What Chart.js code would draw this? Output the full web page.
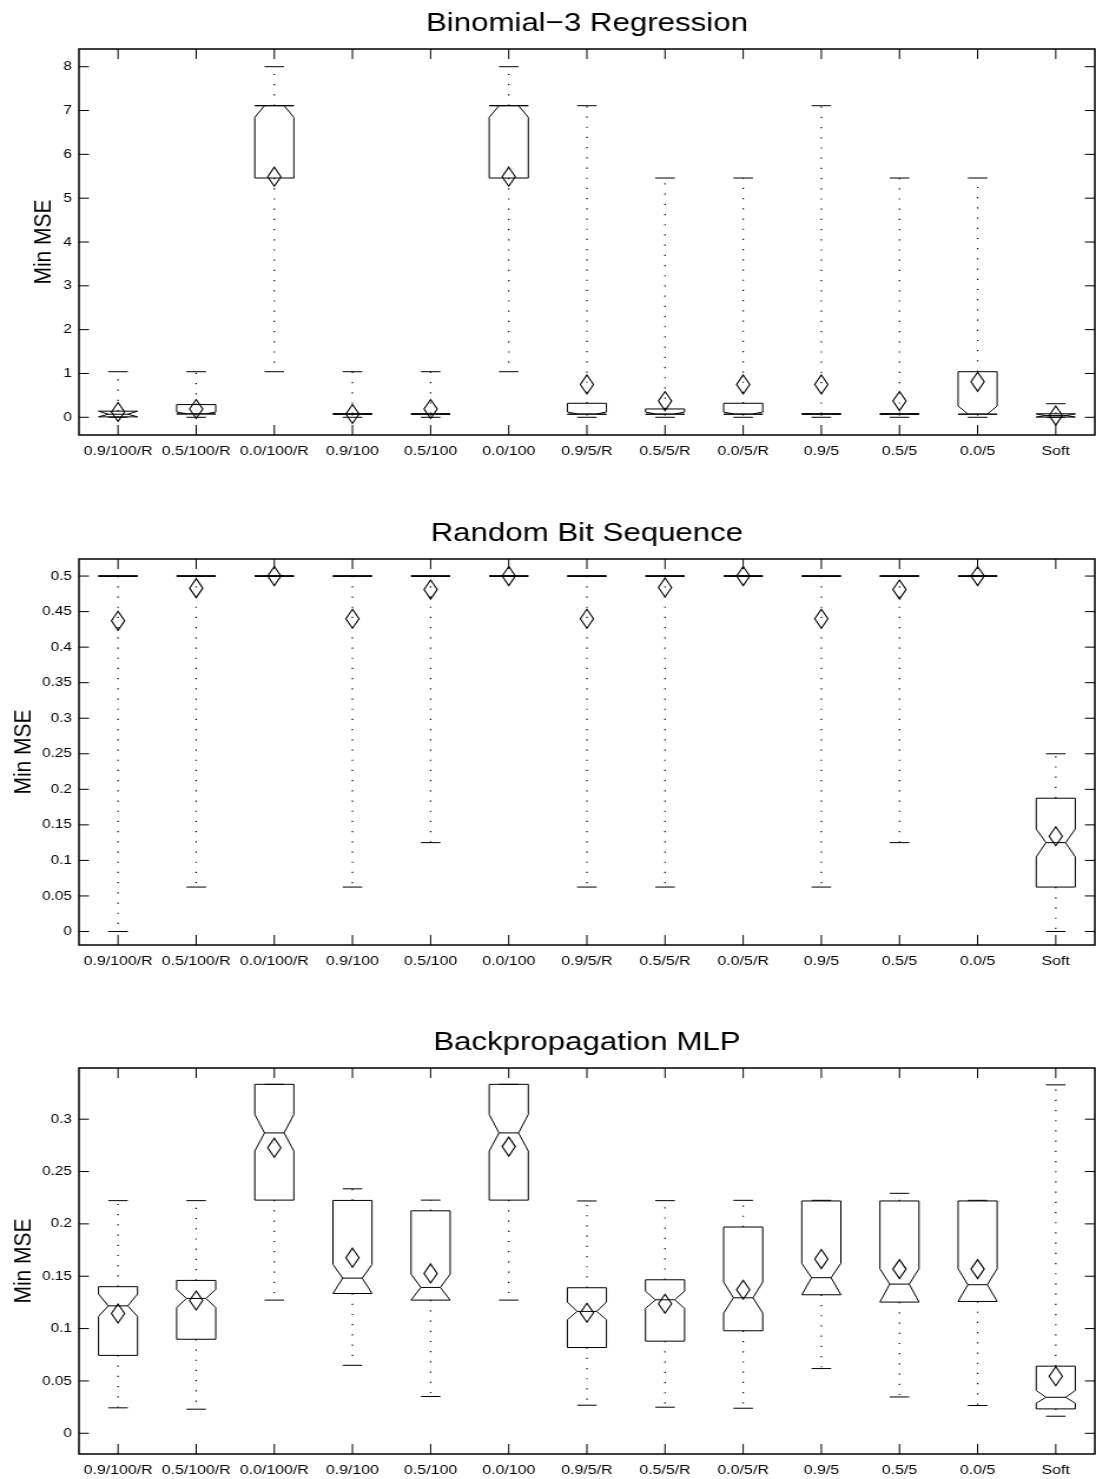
<!DOCTYPE html>
<html>
<head>
<meta charset="utf-8">
<script src="https://cdn.jsdelivr.net/npm/chart.js@4.4.1/dist/chart.umd.min.js"></script>
<style>
  html, body { margin: 0; padding: 0; background: #fff; }
  body { width: 1096px; height: 1479px; position: relative; overflow: hidden; }
  /* the source figure is stretched sideways a little, so the panels are too */
  .panel { position: absolute; left: 0; width: 930px; height: 460px; transform: scaleX(1.1785); transform-origin: 0 0; }
</style>
</head>
<body>
<div class="panel" style="top:0px"><canvas id="chart1" width="930" height="460"></canvas></div>
<div class="panel" style="top:510px"><canvas id="chart2" width="930" height="460"></canvas></div>
<div class="panel" style="top:1019px"><canvas id="chart3" width="930" height="460"></canvas></div>
<script>
const categories = ["0.9/100/R", "0.5/100/R", "0.0/100/R", "0.9/100", "0.5/100", "0.0/100",
                    "0.9/5/R", "0.5/5/R", "0.0/5/R", "0.9/5", "0.5/5", "0.0/5", "Soft"];

// Binomial-3 Regression
const binMin     = [0, 0, 1.04, 0, 0, 1.04, 0, 0, 0, 0, 0, 0, 0];
const binQ1      = [0.01, 0.075, 5.46, 0.07, 0.07, 5.46, 0.07, 0.07, 0.07, 0.07, 0.07, 0.07, 0.005];
const binNotchLo = [0.01, 0.075, 6.845, 0.07, 0.07, 6.845, 0.07, 0.07, 0.07, 0.07, 0.07, 0.07, 0.005];
const binMedian  = [0.07, 0.08, 7.11, 0.076, 0.076, 7.11, 0.076, 0.076, 0.076, 0.076, 0.076, 0.076, 0.04];
const binNotchHi = [0.14, 0.12, 7.11, 0.08, 0.08, 7.11, 0.12, 0.12, 0.12, 0.08, 0.08, 0.258, 0.075];
const binQ3      = [0.14, 0.29, 7.11, 0.08, 0.08, 7.11, 0.32, 0.19, 0.32, 0.08, 0.08, 1.04, 0.08];
const binMax     = [1.04, 1.04, 8.0, 1.04, 1.04, 8.0, 7.11, 5.46, 5.46, 7.11, 5.46, 5.46, 0.31];
const binMean    = [0.12, 0.19, 5.49, 0.076, 0.19, 5.49, 0.75, 0.37, 0.75, 0.75, 0.37, 0.81, 0.04];
const binYTicks  = [0, 1, 2, 3, 4, 5, 6, 7, 8];

// Random Bit Sequence
const rbsMin     = [0, 0.0625, 0.5, 0.0625, 0.125, 0.5, 0.0625, 0.0625, 0.5, 0.0625, 0.125, 0.5, 0];
const rbsQ1      = [0.5, 0.5, 0.5, 0.5, 0.5, 0.5, 0.5, 0.5, 0.5, 0.5, 0.5, 0.5, 0.0625];
const rbsNotchLo = [0.5, 0.5, 0.5, 0.5, 0.5, 0.5, 0.5, 0.5, 0.5, 0.5, 0.5, 0.5, 0.105];
const rbsMedian  = [0.5, 0.5, 0.5, 0.5, 0.5, 0.5, 0.5, 0.5, 0.5, 0.5, 0.5, 0.5, 0.125];
const rbsNotchHi = [0.5, 0.5, 0.5, 0.5, 0.5, 0.5, 0.5, 0.5, 0.5, 0.5, 0.5, 0.5, 0.144];
const rbsQ3      = [0.5, 0.5, 0.5, 0.5, 0.5, 0.5, 0.5, 0.5, 0.5, 0.5, 0.5, 0.5, 0.1875];
const rbsMax     = [0.5, 0.5, 0.5, 0.5, 0.5, 0.5, 0.5, 0.5, 0.5, 0.5, 0.5, 0.5, 0.25];
const rbsMean    = [0.437, 0.483, 0.5, 0.44, 0.481, 0.5, 0.44, 0.484, 0.5, 0.44, 0.481, 0.5, 0.134];
const rbsYTicks  = [0, 0.05, 0.1, 0.15, 0.2, 0.25, 0.3, 0.35, 0.4, 0.45, 0.5];

// Backpropagation MLP
const mlpMin     = [0.0243, 0.023, 0.1272, 0.0649, 0.0351, 0.1272, 0.0268, 0.0249, 0.0239, 0.0618, 0.0347, 0.0265, 0.0163];
const mlpQ1      = [0.0744, 0.0898, 0.2227, 0.1335, 0.1272, 0.2227, 0.0819, 0.088, 0.0979, 0.1323, 0.1253, 0.1259, 0.0233];
const mlpNotchLo = [0.1115, 0.120, 0.2696, 0.1335, 0.1272, 0.2696, 0.1084, 0.1192, 0.1148, 0.1323, 0.1253, 0.1259, 0.0287];
const mlpMedian  = [0.1217, 0.1288, 0.2869, 0.1482, 0.1393, 0.2869, 0.1164, 0.1275, 0.1294, 0.1486, 0.1425, 0.1419, 0.0344];
const mlpNotchHi = [0.133, 0.1374, 0.3045, 0.1613, 0.152, 0.3045, 0.1253, 0.1358, 0.1444, 0.1623, 0.1572, 0.1572, 0.0408];
const mlpQ3      = [0.140, 0.146, 0.3333, 0.2224, 0.2125, 0.3333, 0.139, 0.1466, 0.197, 0.2219, 0.2219, 0.2219, 0.0641];
const mlpMax     = [0.2222, 0.2222, 0.3333, 0.2335, 0.2227, 0.3333, 0.2219, 0.2222, 0.2225, 0.2225, 0.2292, 0.2225, 0.3328];
const mlpMean    = [0.1144, 0.1268, 0.2728, 0.1677, 0.1527, 0.2738, 0.1151, 0.1237, 0.1371, 0.1664, 0.1568, 0.1568, 0.0545];
const mlpYTicks  = [0, 0.05, 0.1, 0.15, 0.2, 0.25, 0.3];

Chart.defaults.font.family = "'Liberation Sans', Arial, Helvetica, sans-serif";
Chart.defaults.color = '#000';

const boxPlugin = {
  id: 'notchedBoxes',
  beforeDatasetsDraw(chart, args, opts) {
    const b = opts.boxes;
    const {ctx, scales: {x, y}} = chart;
    const px = v => x.getPixelForValue(v);
    const py = v => y.getPixelForValue(v);
    ctx.save();
    ctx.strokeStyle = '#000';
    ctx.lineWidth = 1;
    b.median.forEach((med, i) => {
      const c = i + 1;
      const xl = px(c - 0.25), xr = px(c + 0.25);
      const xil = px(c - 0.125), xir = px(c + 0.125), xc = px(c);
      // dotted whiskers
      ctx.setLineDash([1.2, 9]);
      ctx.lineWidth = 1.2;
      ctx.beginPath();
      if (b.max[i] > b.q3[i]) { ctx.moveTo(xc, py(b.q3[i])); ctx.lineTo(xc, py(b.max[i])); }
      if (b.min[i] < b.q1[i]) { ctx.moveTo(xc, py(b.q1[i])); ctx.lineTo(xc, py(b.min[i])); }
      ctx.stroke();
      ctx.setLineDash([]);
      ctx.lineWidth = 1;
      // whisker caps
      ctx.beginPath();
      [b.max[i], b.min[i]].forEach(v => { ctx.moveTo(xil, py(v)); ctx.lineTo(xir, py(v)); });
      ctx.stroke();
      // notched box
      ctx.beginPath();
      ctx.moveTo(xl, py(b.q1[i]));
      ctx.lineTo(xl, py(b.notchLo[i]));
      ctx.lineTo(xil, py(med));
      ctx.lineTo(xl, py(b.notchHi[i]));
      ctx.lineTo(xl, py(b.q3[i]));
      ctx.lineTo(xr, py(b.q3[i]));
      ctx.lineTo(xr, py(b.notchHi[i]));
      ctx.lineTo(xir, py(med));
      ctx.lineTo(xr, py(b.notchLo[i]));
      ctx.lineTo(xr, py(b.q1[i]));
      ctx.closePath();
      ctx.stroke();
      // median
      ctx.beginPath();
      ctx.moveTo(xil, py(med));
      ctx.lineTo(xir, py(med));
      ctx.stroke();
    });
    ctx.restore();
  },
  afterDatasetsDraw(chart) {
    // mean markers: tall open diamonds at the scatter points
    const ctx = chart.ctx;
    ctx.save();
    ctx.strokeStyle = '#000';
    ctx.lineWidth = 1.1;
    chart.getDatasetMeta(0).data.forEach(pt => {
      ctx.beginPath();
      ctx.moveTo(pt.x, pt.y - 9.5);
      ctx.lineTo(pt.x + 5.6, pt.y);
      ctx.lineTo(pt.x, pt.y + 9.5);
      ctx.lineTo(pt.x - 5.6, pt.y);
      ctx.closePath();
      ctx.stroke();
    });
    ctx.restore();
  },
  afterDraw(chart) {
    // axes box with ticks pointing inwards on all four sides
    const {ctx, chartArea: a, scales: {x, y}} = chart;
    ctx.save();
    ctx.strokeStyle = '#000';
    ctx.lineWidth = 1;
    ctx.beginPath();
    x.ticks.forEach(t => {
      const p = x.getPixelForValue(t.value);
      ctx.moveTo(p, a.bottom); ctx.lineTo(p, a.bottom - 10);
      ctx.moveTo(p, a.top); ctx.lineTo(p, a.top + 10);
    });
    y.ticks.forEach(t => {
      const p = y.getPixelForValue(t.value);
      ctx.moveTo(a.left, p); ctx.lineTo(a.left + 8.5, p);
      ctx.moveTo(a.right, p); ctx.lineTo(a.right - 8.5, p);
    });
    ctx.stroke();
    ctx.lineWidth = 1.5;
    ctx.strokeRect(a.left, a.top, a.right - a.left, a.bottom - a.top);
    ctx.restore();
  }
};

function makeChart(id, title, yMin, yMax, yTicks, titlePad, boxes, means) {
  return new Chart(document.getElementById(id), {
    type: 'scatter',
    data: {
      datasets: [{
        data: means.map((m, i) => ({x: i + 1, y: m})),
        pointRadius: 0,
        borderColor: '#000',
        backgroundColor: 'transparent'
      }]
    },
    options: {
      responsive: false,
      animation: false,
      events: [],
      layout: {padding: {left: 0, right: 1, top: 0, bottom: 0}},
      plugins: {
        legend: {display: false},
        tooltip: {enabled: false},
        title: {
          display: true,
          text: title,
          fullSize: false,
          color: '#000',
          font: {size: 26.5, weight: 'normal'},
          padding: {top: 8, bottom: 9.2}
        },
        notchedBoxes: {boxes: boxes}
      },
      scales: {
        x: {
          type: 'linear',
          min: 0.5,
          max: 13.5,
          grid: {display: false, drawTicks: false},
          border: {display: false},
          afterBuildTicks: s => { s.ticks = categories.map((c, i) => ({value: i + 1})); },
          afterFit: s => { s.height = 25; s.paddingLeft = 0; s.paddingRight = 0; },
          ticks: {
            autoSkip: false,
            maxRotation: 0,
            minRotation: 0,
            padding: 8,
            font: {size: 13.5},
            callback: v => categories[v - 1]
          }
        },
        y: {
          type: 'linear',
          min: yMin,
          max: yMax,
          grid: {display: false, drawTicks: false},
          border: {display: false},
          afterBuildTicks: s => { s.ticks = yTicks.map(v => ({value: v})); },
          afterFit: s => { s.width = 67; },
          ticks: {padding: 6, font: {size: 13}, callback: v => String(v)},
          title: {display: true, text: 'Min MSE', font: {size: 21}, padding: {top: titlePad, bottom: 0}}
        }
      }
    },
    plugins: [boxPlugin]
  });
}

makeChart('chart1', 'Binomial\u22123 Regression', -0.404, 8.404, binYTicks, 25,
  {min: binMin, q1: binQ1, notchLo: binNotchLo, median: binMedian, notchHi: binNotchHi, q3: binQ3, max: binMax}, binMean);
makeChart('chart2', 'Random Bit Sequence', -0.019, 0.524, rbsYTicks, 8,
  {min: rbsMin, q1: rbsQ1, notchLo: rbsNotchLo, median: rbsMedian, notchHi: rbsNotchHi, q3: rbsQ3, max: rbsMax}, rbsMean);
makeChart('chart3', 'Backpropagation MLP', -0.0198, 0.3489, mlpYTicks, 8,
  {min: mlpMin, q1: mlpQ1, notchLo: mlpNotchLo, median: mlpMedian, notchHi: mlpNotchHi, q3: mlpQ3, max: mlpMax}, mlpMean);
</script>
</body>
</html>
